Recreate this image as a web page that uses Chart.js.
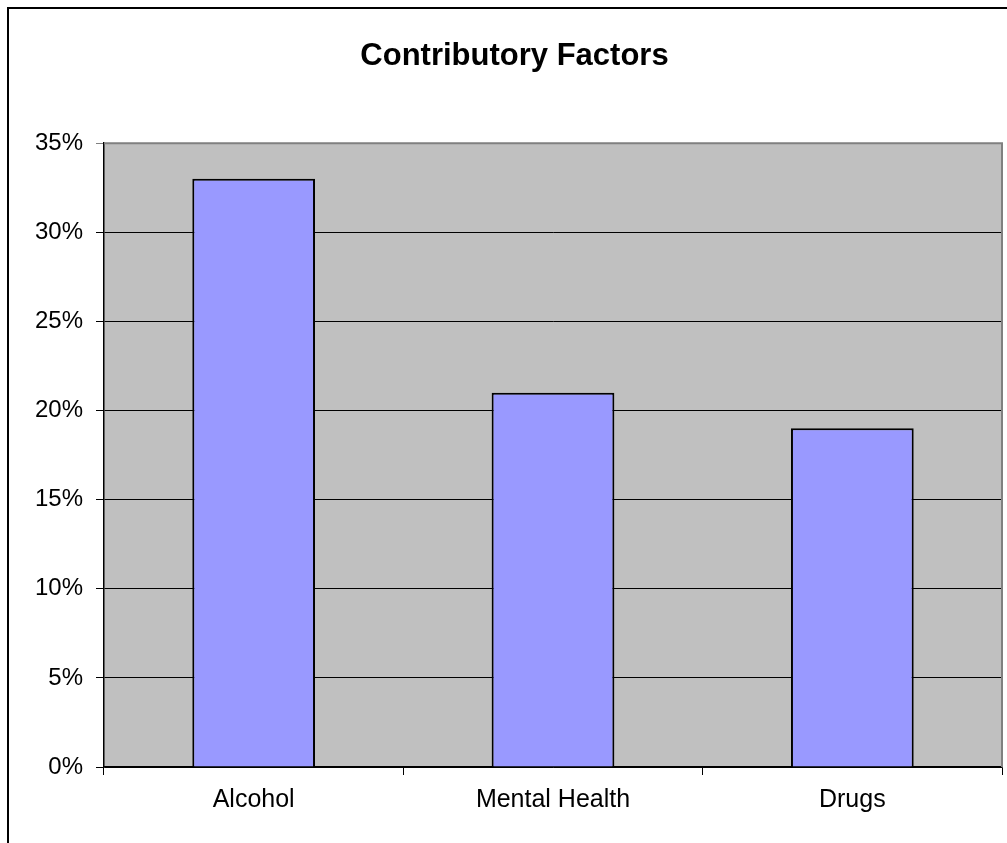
<!DOCTYPE html>
<html>
<head>
<meta charset="utf-8">
<script src="https://cdn.jsdelivr.net/npm/chart.js@4/dist/chart.umd.min.js"></script>
<style>
  html, body { margin: 0; padding: 0; background: #fff; }
  #wrap { width: 1007px; height: 843px; position: relative; }
</style>
</head>
<body>
<div id="wrap"><canvas id="c" width="1007" height="843"></canvas></div>
<script>
const categories = ["Alcohol", "Mental Health", "Drugs"];
const values = [33, 21, 19];
const chartTitle = "Contributory Factors";
const yMin = 0, yMax = 35, yStep = 5;

const frame = {
  id: 'frame',
  beforeDraw(chart) {
    const ctx = chart.ctx, a = chart.chartArea;
    ctx.save();
    ctx.fillStyle = '#ffffff';
    ctx.fillRect(0, 0, chart.width, chart.height);
    ctx.strokeStyle = '#000000';
    ctx.lineWidth = 2;
    ctx.strokeRect(8, 8, chart.width + 20, chart.height + 20);
    ctx.fillStyle = '#C0C0C0';
    ctx.fillRect(a.left, a.top, a.right - a.left, a.bottom - a.top);
    ctx.restore();
  },
  afterDraw(chart) {
    const ctx = chart.ctx, a = chart.chartArea;
    ctx.save();
    ctx.strokeStyle = '#808080';
    ctx.lineWidth = 2;
    ctx.beginPath();
    ctx.moveTo(a.left, a.top);
    ctx.lineTo(a.right, a.top);
    ctx.lineTo(a.right, a.bottom);
    ctx.stroke();
    ctx.restore();
  }
};

new Chart(document.getElementById('c'), {
  type: 'bar',
  data: {
    labels: categories,
    datasets: [{
      data: values,
      backgroundColor: '#9999FF',
      borderColor: '#000000',
      borderWidth: 2,
      barPercentage: 0.41,
      categoryPercentage: 1.0
    }]
  },
  options: {
    responsive: false,
    animation: false,
    devicePixelRatio: 1,
    layout: { padding: { left: 27, right: 5, top: 0, bottom: 0 } },
    plugins: {
      legend: { display: false },
      tooltip: { enabled: false },
      title: {
        display: true,
        text: chartTitle,
        color: '#000000',
        font: { family: 'Liberation Sans, Arial, sans-serif', size: 31, weight: 'bold' },
        padding: { top: 38, bottom: 68 }
      }
    },
    scales: {
      x: {
        offset: true,
        grid: {
          offset: true,
          drawOnChartArea: false,
          drawTicks: true,
          tickLength: 8,
          color: '#000000',
          lineWidth: 1
        },
        border: { display: true, color: '#000000', width: 1.5 },
        ticks: {
          color: '#000000',
          font: { family: 'Liberation Sans, Arial, sans-serif', size: 25 },
          padding: 10,
          maxRotation: 0
        },
        afterFit(scale) { scale.height = 76; }
      },
      y: {
        min: yMin,
        max: yMax,
        grid: {
          drawTicks: true,
          tickLength: 8,
          color: (ctx) => (ctx.tick && ctx.tick.value === yMax) ? '#808080' : '#000000',
          lineWidth: 1
        },
        border: { display: true, color: '#000000', width: 1.5 },
        ticks: {
          stepSize: yStep,
          color: '#000000',
          font: { family: 'Liberation Sans, Arial, sans-serif', size: 24 },
          padding: 13,
          callback: (v) => v + '%'
        },
        afterFit(scale) { scale.width = 77; }
      }
    }
  },
  plugins: [frame]
});
</script>
</body>
</html>
